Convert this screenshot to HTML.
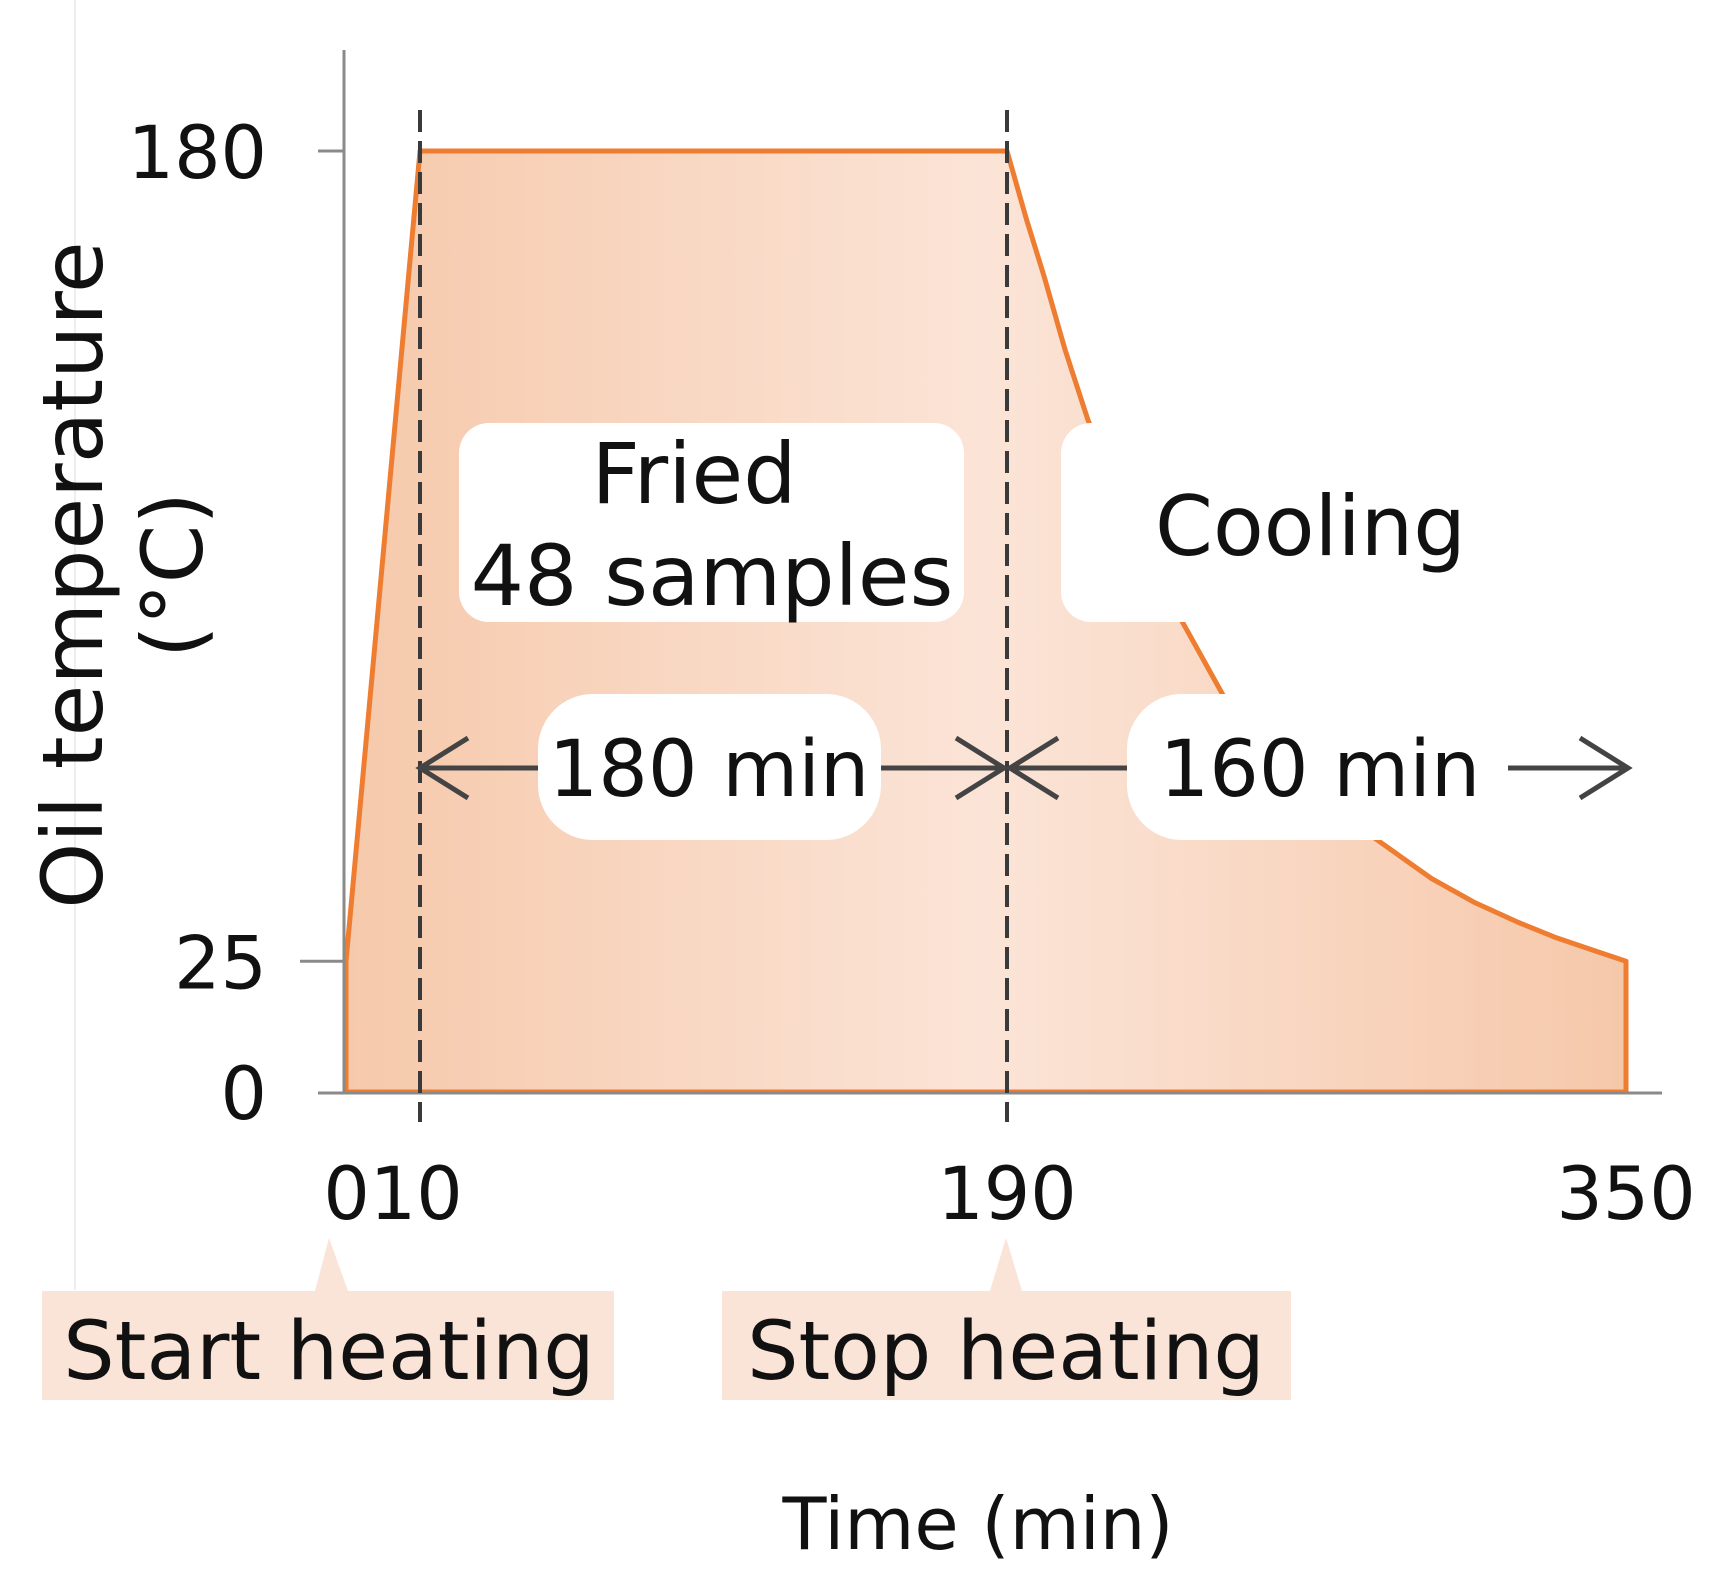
<!DOCTYPE html>
<html><head><meta charset="utf-8"><style>
html,body{margin:0;padding:0;background:#fff;}
svg{display:block;font-family:"DejaVu Sans","Liberation Sans",sans-serif;}
</style></head><body>
<svg id="chart" width="1724" height="1574" viewBox="0 0 1724 1574">
<defs>
<linearGradient id="fillGrad" gradientUnits="userSpaceOnUse" x1="346" y1="0" x2="1625" y2="0">
<stop offset="0" stop-color="#f6c9ab"/>
<stop offset="0.5" stop-color="#fbe4d7"/>
<stop offset="1" stop-color="#f6c8aa"/>
</linearGradient>
</defs>
<line x1="75" y1="0" x2="75" y2="1290" stroke="#eeeeee" stroke-width="2"/>
<g id="plot"></g>
</svg>
<script>
const times = [0, 10, 190, 195, 199.6, 205, 210.9, 222, 234.9, 246, 265, 285.7, 299.8, 311, 322.3, 332, 342, 350];
const temps = [25, 180, 180, 167, 156, 142, 128.6, 108, 90.5, 75.7, 60, 48.2, 40.8, 36.2, 32.4, 29.5, 27, 25];
const yTicks = [0, 25, 180];
const xTickLabels = ["010", "190", "350"];
const xTickValues = [5, 190, 350];
const markers = [10, 190];

const xDom = [0, 10, 190, 350], xRng = [346, 420, 1007, 1626];
function xs(t){
  for(let i=0;i<xDom.length-1;i++){
    if(t<=xDom[i+1]||i===xDom.length-2){
      return xRng[i]+(t-xDom[i])/(xDom[i+1]-xDom[i])*(xRng[i+1]-xRng[i]);
    }
  }
}
function ys(v){ return 1092 - v*(1092-151)/180; }

const NS="http://www.w3.org/2000/svg";
const g=document.getElementById('plot');
function mk(tag, attrs, text){
  const e=document.createElementNS(NS,tag);
  for(const k in attrs) e.setAttribute(k, attrs[k]);
  if(text!==undefined) e.textContent=text;
  g.appendChild(e); return e;
}

let d = `M${xs(times[0])},${ys(0)}`;
times.forEach((t,i)=>{ d += ` L${xs(t)},${ys(temps[i])}`; });
d += ` L${xs(times[times.length-1])},${ys(0)} Z`;
const area = mk('path',{d:d, fill:'url(#fillGrad)', stroke:'#ee7d31', 'stroke-width':5, 'stroke-linejoin':'round'});



const yAxis = mk('line',{x1:344,y1:50,x2:344,y2:1094,stroke:'#8a8a8a','stroke-width':3});


const xAxis = mk('line',{x1:318,y1:1093,x2:1662,y2:1093,stroke:'#8a8a8a','stroke-width':3});



yTicks.forEach(v=>{
  if(v>0){
    const tk = mk('line',{x1:v===25?300:318,y1:ys(v),x2:344,y2:ys(v),stroke:'#8a8a8a','stroke-width':3});
    
    
  }
  const lb = mk('text',{x:267,y:ys(v)+27,'text-anchor':'end','font-size':73,fill:'#111'}, String(v));
  
  
});

markers.forEach(m=>{
  const dl = mk('line',{x1:xs(m),y1:110,x2:xs(m),y2:1122,stroke:'#3a3a3a','stroke-width':4,'stroke-dasharray':'22 9'});
  
  
});

xTickLabels.forEach((s,i)=>{
  const lb = mk('text',{x:xs(xTickValues[i])+(i===0?10:0),y:1219,'text-anchor':'middle','font-size':73,fill:'#111'}, s);
  
  
});

const fb = mk('rect',{x:459,y:423,width:505,height:199,rx:30,fill:'#fff'});


const cb = mk('rect',{x:1061,y:423,width:460,height:199,rx:30,fill:'#fff'});


const t1 = mk('text',{x:694,y:503,'text-anchor':'middle','font-size':84,fill:'#111'},'Fried');


const t2 = mk('text',{x:712,y:605,'text-anchor':'middle','font-size':84,fill:'#111'},'48 samples');


const t3 = mk('text',{x:1155,y:555,'font-size':83,fill:'#111'},'Cooling');



const ay = 768;
function line(x1,x2,name){
  const l = mk('line',{x1:x1,y1:ay,x2:x2,y2:ay,stroke:'#444','stroke-width':5});
  
  
}
function head(x,dir){
  const h = mk('path',{d:`M${x+dir*48},${ay-30} L${x},${ay} L${x+dir*48},${ay+30}`,fill:'none',stroke:'#444','stroke-width':5});
  
  
}
line(420,540,'arrow-180-left'); line(880,1004,'arrow-180-right');
head(420,1); head(1004,-1);
line(1010,1130,'arrow-160-left'); line(1508,1628,'arrow-160-right');
head(1010,1); head(1628,-1);
const p1 = mk('rect',{x:538,y:694,width:343,height:146,rx:55,fill:'#fff'});


const p2 = mk('rect',{x:1127,y:694,width:360,height:146,rx:55,fill:'#fff'});


const d1 = mk('text',{x:709,y:796,'text-anchor':'middle','font-size':78,fill:'#111'},'180 min');


const d2 = mk('text',{x:1320,y:796,'text-anchor':'middle','font-size':78,fill:'#111'},'160 min');



const c1 = mk('path',{d:'M42,1291 L315,1291 L329,1238 L348,1291 L614,1291 L614,1400 L42,1400 Z',fill:'#fae3d7'});


const c2 = mk('path',{d:'M722,1291 L990,1291 L1006,1238 L1022,1291 L1291,1291 L1291,1400 L722,1400 Z',fill:'#fae3d7'});


const s1 = mk('text',{x:329,y:1379,'text-anchor':'middle','font-size':81,fill:'#111'},'Start heating');


const s2 = mk('text',{x:1006,y:1379,'text-anchor':'middle','font-size':81,fill:'#111'},'Stop heating');



const xt = mk('text',{x:978,y:1549,'text-anchor':'middle','font-size':72,fill:'#111'},'Time (min)');


const yt = mk('text',{x:0,y:0,'text-anchor':'middle','font-size':84,fill:'#111',transform:'translate(102,575) rotate(-90)'});


const ts1=document.createElementNS(NS,'tspan'); ts1.setAttribute('x',0); ts1.setAttribute('dy',0); ts1.textContent='Oil temperature'; yt.appendChild(ts1);
const ts2=document.createElementNS(NS,'tspan'); ts2.setAttribute('x',0); ts2.setAttribute('dy',100); ts2.textContent='(°C)'; yt.appendChild(ts2);
</script>
</body></html>
